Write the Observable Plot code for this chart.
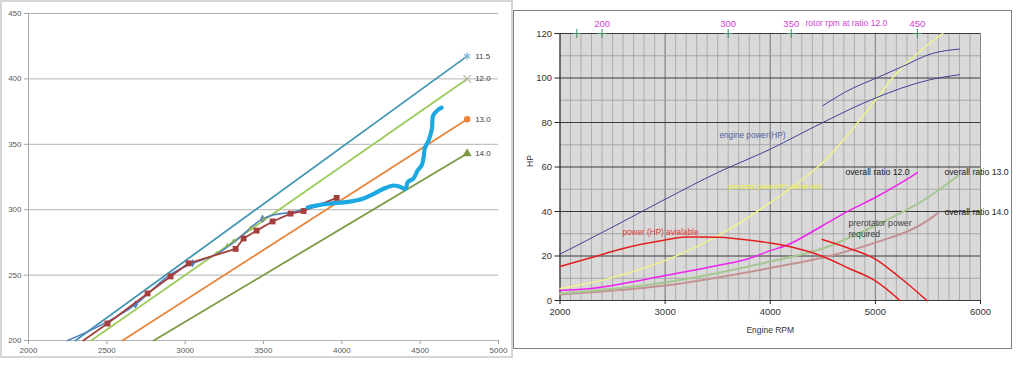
<!DOCTYPE html>
<html>
<head>
<meta charset="utf-8">
<script src="https://cdn.jsdelivr.net/npm/d3@7"></script>
<script src="https://cdn.jsdelivr.net/npm/@observablehq/plot@0.6"></script>
<style>
  html, body { margin: 0; padding: 0; background: #fff; width: 1024px; height: 367px; overflow: hidden; }
  .box { position: absolute; }
  .box svg { max-width: none !important; }
</style>
</head>
<body>
<div id="left" class="box" style="left:0;top:0;width:512px;height:360px"></div>
<div class="box" style="left:0;top:0;width:509px;height:354px;border:2px solid #d6d6d6"></div>
<div id="right" class="box" style="left:513px;top:11px;width:500px;height:339px"></div>
<div class="box" style="left:513px;top:10px;width:497px;height:337px;border:1.5px solid #7f7f7f"></div>
<script>
// ---------------- LEFT CHART DATA (engine rpm vs rotor rpm) ----------------
const leftTicksX = [2000, 2500, 3000, 3500, 4000, 4500, 5000];
const leftTicksY = [200, 250, 300, 350, 400, 450];

const ratioLabels = ["11.5", "12.0", "13.0", "14.0"];
const ratioStartRpm = [2300, 2400, 2600, 2800];
const ratioStartRotor = [200, 200, 200, 200];
const ratioEndRpm = [4800, 4800, 4800, 4800];
const ratioEndRotor = [417.4, 400, 369.2, 342.9];

const redRpm   = [2350, 2504, 2760, 2907, 3022, 3322, 3373, 3456, 3558, 3673, 3756, 3967];
const redRotor = [200, 213, 236, 249, 259, 270, 278, 284, 291, 297, 299, 309];

const blueRpm   = [2250, 2450, 2683, 2900, 3047, 3200, 3330, 3494, 3560, 3680, 3780];
const blueRotor = [200, 211, 227.5, 250, 259, 266, 277, 293, 296, 298, 301];
const blueMarkRpm   = [2683, 3047, 3494];
const blueMarkRotor = [227.5, 259, 293];

const greenMarkRpm   = [3200, 3270, 3310, 3418, 3500];
const greenMarkRotor = [266.5, 272.6, 276, 286, 292.6];

const cyanRpm   = [3781, 3850, 3928, 4040, 4139, 4210, 4267, 4331, 4370, 4407, 4420, 4458, 4484, 4510, 4522, 4530, 4554, 4575, 4583, 4611, 4637];
const cyanRotor = [301.7, 303.5, 304.7, 306, 308.6, 312.5, 316, 318.5, 317.5, 316, 321, 324, 330, 334, 340, 347, 353, 362, 372, 376, 378];

// ---------------- RIGHT CHART DATA (engine rpm vs HP) ----------------
const rightTicksX = [2000, 3000, 4000, 5000, 6000];
const rightTicksY = [0, 20, 40, 60, 80, 100, 120];

const engineRpm = [2000, 2500, 3000, 3500, 4000, 4500, 5000, 5500, 5800];
const engineHp  = [20.8, 33, 45.5, 57.5, 68, 80, 91, 99, 101.5];

const engine2Rpm = [4500, 4780, 5000, 5250, 5540, 5800];
const engine2Hp  = [87.6, 95.3, 99.8, 105, 111, 113];

const prerotRpm = [2000, 2500, 3000, 3500, 4000, 4250, 4500, 4800, 5000, 5200, 5400, 5640];
const prerotHp  = [5.4, 10.3, 18, 29, 44, 52.5, 62, 78, 90, 102, 111, 120];

const availRpm = [2000, 2300, 2600, 3000, 3200, 3500, 3700, 4000, 4200, 4500, 4750, 5000, 5235];
const availHp  = [15.3, 19.3, 23.4, 27.2, 28.5, 28.4, 27.6, 25.8, 24, 19.8, 14.4, 8.8, 0];

const avail2Rpm = [4494, 4740, 5000, 5216, 5490];
const avail2Hp  = [27.4, 23.6, 18.6, 11, 0];

const r12Rpm = [2000, 2300, 2600, 3000, 3500, 3800, 4000, 4150, 4500, 4750, 5000, 5235, 5400];
const r12Hp  = [4.5, 5.4, 7.6, 11.2, 15.7, 18.9, 22.4, 24.7, 33.7, 40.4, 46.3, 52.6, 57.5];

const r13Rpm = [2000, 3000, 4000, 4500, 5000, 5500, 5800];
const r13Hp  = [3.1, 8.1, 17.5, 23.4, 33.7, 46.3, 56.5];

const r14Rpm = [2000, 3000, 4000, 4500, 5000, 5500, 5600];
const r14Hp  = [2.7, 6.7, 14.6, 19.3, 26, 36, 39.5];

const rotorTickValues = [180, 200, 300, 350, 450];
const rotorTickLabels = ["", "200", "300", "350", "450"];
const topRatio = 12.0;

// ---------------- helpers ----------------
const zip = (xs, ys) => xs.map((x, i) => ({x, y: ys[i]}));
const fmt = d3.format("d");

// ---------------- LEFT CHART ----------------
const ratioColors = ["#4596b3", "#9ccb5c", "#e8843b", "#7b9a43"];
const ratioLines = ratioLabels.flatMap((r, i) => [
  {ratio: r, x: ratioStartRpm[i], y: ratioStartRotor[i]},
  {ratio: r, x: ratioEndRpm[i], y: ratioEndRotor[i]}
]);
const ratioEnds = ratioLabels.map((r, i) => ({ratio: r, x: ratioEndRpm[i], y: ratioEndRotor[i]}));

const left = Plot.plot({
  width: 512, height: 360,
  marginLeft: 28, marginRight: 14, marginTop: 13, marginBottom: 20,
  x: {domain: [2000, 5000], label: null},
  y: {domain: [200, 450], label: null},
  color: {domain: ratioLabels, range: ratioColors},
  style: {fontFamily: "Liberation Sans, Arial, sans-serif", fontSize: "8px", background: "transparent"},
  marks: [
    Plot.ruleY(leftTicksY, {stroke: "#b3b3b3", strokeWidth: 1}),
    Plot.ruleX([2000], {stroke: "#a6a6a6"}),
    Plot.axisX({ticks: leftTicksX, tickSize: 4, tickPadding: 3, tickFormat: fmt, stroke: "#a6a6a6", fill: "#595959", label: null}),
    Plot.axisY({ticks: leftTicksY, tickSize: 4, tickPadding: 3, tickFormat: fmt, stroke: "#a6a6a6", fill: "#595959", label: null}),
    Plot.line(ratioLines, {x: "x", y: "y", z: "ratio", stroke: "ratio", strokeWidth: 1.8}),
    Plot.line(zip(blueRpm, blueRotor), {x: "x", y: "y", stroke: "#4f81bd", strokeWidth: 1.6, curve: "monotone-x"}),
    Plot.dot(zip(blueMarkRpm, blueMarkRotor), {x: "x", y: "y", symbol: "diamond", r: 2.6, fill: "#4f81bd"}),
    Plot.dot(zip(greenMarkRpm, greenMarkRotor), {x: "x", y: "y", symbol: "triangle", r: 1.8, fill: "#8fae5a"}),
    Plot.line(zip(redRpm, redRotor), {x: "x", y: "y", stroke: "#a3403e", strokeWidth: 1.8}),
    Plot.dot(zip(redRpm, redRotor).slice(1), {x: "x", y: "y", symbol: "square", r: 3.3, fill: "#a3403e"}),
    Plot.line(zip(cyanRpm, cyanRotor), {x: "x", y: "y", stroke: "#1da8e2", strokeWidth: 4.2, curve: "catmull-rom", strokeLinecap: "round"}),
    Plot.dot([ratioEnds[0]], {x: "x", y: "y", symbol: "asterisk", r: 3.5, stroke: "#7fb8d4", strokeWidth: 1.3}),
    Plot.dot([ratioEnds[1]], {x: "x", y: "y", symbol: "times", r: 3.5, stroke: "#b0b8a8", strokeWidth: 1.3}),
    Plot.dot([ratioEnds[2]], {x: "x", y: "y", symbol: "circle", r: 3.2, fill: "#e8843b"}),
    Plot.dot([ratioEnds[3]], {x: "x", y: "y", symbol: "triangle", r: 3.4, fill: "#7b9a43"}),
    Plot.text(ratioEnds, {x: "x", y: "y", text: "ratio", textAnchor: "start", dx: 8, fill: "#404040", fontSize: 8})
  ]
});
document.getElementById("left").appendChild(left);

// ---------------- RIGHT CHART ----------------
const minorX = d3.range(2000, 6001, 100);
const minorY = d3.range(10, 120, 20);
const topTicks = rotorTickValues.map((v, i) => ({x: v * topRatio, y: 120, label: rotorTickLabels[i]}));

const right = Plot.plot({
  width: 500, height: 339,
  marginLeft: 46.5, marginRight: 33, marginTop: 22, marginBottom: 50,
  x: {domain: [2000, 6000], label: null},
  y: {domain: [0, 120], label: null},
  style: {fontFamily: "Liberation Sans, Arial, sans-serif", fontSize: "9px", background: "transparent"},
  marks: [
    Plot.frame({fill: "#d9d9d9", stroke: null}),
    Plot.ruleX(minorX, {stroke: "#a8a8a8", strokeWidth: 0.9}),
    Plot.ruleX(rightTicksX.slice(1), {stroke: "#858585", strokeWidth: 1}),
    Plot.ruleY(minorY, {stroke: "#a0a0a0", strokeWidth: 0.9}),
    Plot.ruleY(rightTicksY, {stroke: "#3a3a3a", strokeWidth: 1.1}),
    Plot.ruleX([2000], {stroke: "#222", strokeWidth: 1.1}),
    Plot.axisX({ticks: rightTicksX, tickSize: 4, tickPadding: 4, tickFormat: fmt, stroke: "#222", fill: "#333", fontSize: 9.5, label: null}),
    Plot.axisY({ticks: rightTicksY, tickSize: 5, tickPadding: 3, tickFormat: fmt, stroke: "#222", fill: "#333", fontSize: 9.5, label: null}),
    Plot.text(["HP"], {frameAnchor: "left", dx: -30, rotate: -90, fill: "#333", fontSize: 8.5}),
    Plot.text(["Engine RPM"], {frameAnchor: "bottom", dy: 32, fill: "#333", fontSize: 8.5}),

    Plot.line(zip(prerotRpm, prerotHp), {x: "x", y: "y", stroke: "#f2f28a", strokeWidth: 1.4, curve: "monotone-x"}),
    Plot.line(zip(engineRpm, engineHp), {x: "x", y: "y", stroke: "#40409a", strokeWidth: 1, curve: "monotone-x"}),
    Plot.line(zip(engine2Rpm, engine2Hp), {x: "x", y: "y", stroke: "#40409a", strokeWidth: 1, curve: "monotone-x"}),
    Plot.line(zip(r14Rpm, r14Hp), {x: "x", y: "y", stroke: "#c49292", strokeWidth: 2, curve: "monotone-x"}),
    Plot.line(zip(r13Rpm, r13Hp), {x: "x", y: "y", stroke: "#a6c690", strokeWidth: 2, curve: "monotone-x"}),
    Plot.line(zip(r12Rpm, r12Hp), {x: "x", y: "y", stroke: "#ee22ee", strokeWidth: 1.5, curve: "monotone-x"}),
    Plot.line(zip(availRpm, availHp), {x: "x", y: "y", stroke: "#e41e1e", strokeWidth: 1.5, curve: "monotone-x"}),
    Plot.line(zip(avail2Rpm, avail2Hp), {x: "x", y: "y", stroke: "#e41e1e", strokeWidth: 1.5, curve: "monotone-x"}),

    Plot.dot(topTicks, {x: "x", y: "y", symbol: "plus", r: 3, stroke: "#3f8a5f", strokeWidth: 1}),
    Plot.text(topTicks, {x: "x", y: "y", text: "label", dy: -10, fill: "#d23fd2", fontSize: 9.5}),
    Plot.text(["rotor rpm at ratio 12.0"], {x: 4335, y: 120, dy: -10, textAnchor: "start", fill: "#d23fd2", fontSize: 8.5}),

    Plot.text(["engine power(HP)"], {x: 3517, y: 74.2, textAnchor: "start", fill: "#4f5f9f", fontSize: 8.2}),
    Plot.text(["power (HP) avialable"], {x: 2594, y: 30.6, textAnchor: "start", fill: "#e03a3a", fontSize: 8.2}),
    Plot.text(["prerotator power(HP) overall ratio"], {x: 3603, y: 51.2, textAnchor: "start", fill: "#eeee30", fontSize: 6.3}),
    Plot.text(["overall ratio 12.0"], {x: 4715, y: 57.5, textAnchor: "start", fill: "#1a1a1a", fontSize: 8.7}),
    Plot.text(["overall ratio 13.0"], {x: 5657, y: 57.5, textAnchor: "start", fill: "#1a1a1a", fontSize: 8.7}),
    Plot.text(["overall ratio 14.0"], {x: 5657, y: 39.6, textAnchor: "start", fill: "#1a1a1a", fontSize: 8.7}),
    Plot.text(["prerotator power", "required"], {x: 4744, y: [34.6, 29.7], textAnchor: "start", fill: "#404040", fontSize: 8.6})
  ]
});
document.getElementById("right").appendChild(right);
</script>
</body>
</html>
